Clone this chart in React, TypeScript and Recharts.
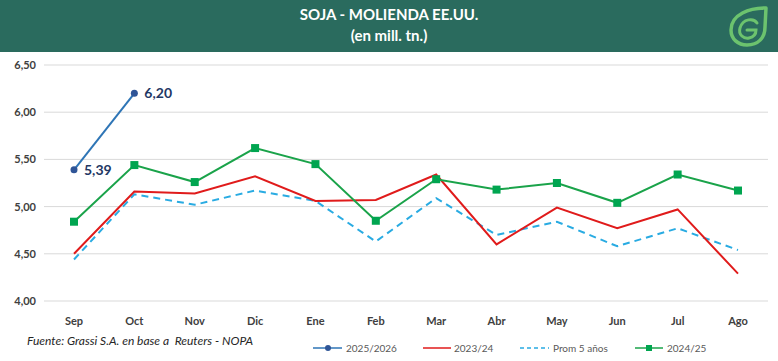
import React from "react";
import { LineChart, Line, XAxis, YAxis, CartesianGrid, LabelList } from "recharts";

document.body.style.margin = "0";

const months = ["Sep", "Oct", "Nov", "Dic", "Ene", "Feb", "Mar", "Abr", "May", "Jun", "Jul", "Ago"];
const season2526: (number | null)[] = [5.39, 6.2, null, null, null, null, null, null, null, null, null, null];
const season2324 = [4.5, 5.16, 5.14, 5.32, 5.06, 5.07, 5.34, 4.6, 4.99, 4.77, 4.97, 4.29];
const prom5 = [4.44, 5.13, 5.02, 5.17, 5.06, 4.63, 5.09, 4.7, 4.84, 4.58, 4.77, 4.54];
const season2425 = [4.84, 5.44, 5.26, 5.62, 5.45, 4.85, 5.29, 5.18, 5.25, 5.04, 5.34, 5.17];
const yTicks = [4, 4.5, 5, 5.5, 6, 6.5];

const data = months.map((m, i) => ({
  month: m,
  s2526: season2526[i],
  s2324: season2324[i],
  prom: prom5[i],
  s2425: season2425[i],
}));

const FONT = "Lato, 'Open Sans', sans-serif";
const comma = (v: number) => v.toFixed(2).replace(".", ",");

const SquareDot = (props: any) => {
  const { cx, cy } = props;
  if (cx == null || cy == null) return null;
  return <rect x={cx - 4} y={cy - 4} width={8} height={8} fill="#00a550" />;
};

// rough version of the leaf + G brand mark
function Logo() {
  return (
    <svg width={42} height={42} viewBox="0 0 42 42" style={{ position: "absolute", left: 727, top: 5 }}>
      <path
        d="M39 3 C23 3 4 9 4 25 C4 34 11 40 20 40 C31 40 38 33 38 22 Z"
        fill="none"
        stroke="#6cc36e"
        strokeWidth={3.5}
        strokeLinejoin="round"
      />
      <path
        d="M30 18 C27 13 16 13 13 23 C11 30 17 34 22 33 C27 32 29 29 29 25 L20 25"
        fill="none"
        stroke="#6cc36e"
        strokeWidth={3}
        strokeLinecap="round"
      />
    </svg>
  );
}

function LegendRow() {
  const txt = { fontFamily: FONT, fontSize: 10, fill: "#595959" };
  return (
    <svg width={778} height={20} style={{ position: "absolute", left: 0, top: 338 }}>
      <line x1={313} x2={342} y1={10} y2={10} stroke="#2e75b6" strokeWidth={1.5} />
      <circle cx={328} cy={10} r={3} fill="#2f5597" />
      <text x={346} y={13.5} {...txt}>2025/2026</text>
      <line x1={423} x2={451} y1={10} y2={10} stroke="#e01b1b" strokeWidth={1.5} />
      <text x={454} y={13.5} {...txt}>2023/24</text>
      <line x1={520} x2={549} y1={10} y2={10} stroke="#29abe2" strokeWidth={1.5} strokeDasharray="4 3" />
      <text x={553} y={13.5} {...txt}>Prom 5 años</text>
      <line x1={635} x2={663} y1={10} y2={10} stroke="#1aa34a" strokeWidth={1.5} />
      <rect x={646} y={7} width={6} height={6} fill="#00a550" />
      <text x={667} y={13.5} {...txt}>2024/25</text>
    </svg>
  );
}

export default function App() {
  return (
    <div style={{ position: "relative", width: 778, height: 361, background: "#fff", overflow: "hidden" }}>
      <LineChart width={778} height={361} data={data} margin={{ top: 65, right: 10, left: 0, bottom: 30 }}>
        <CartesianGrid vertical={false} stroke="#d9d9d9" />
        <XAxis
          dataKey="month"
          axisLine={false}
          tickLine={false}
          padding={{ left: 30, right: 30 }}
          tickMargin={10}
          height={30}
          tick={{ fontSize: 11, fontWeight: 700, fill: "#404040", fontFamily: FONT }}
        />
        <YAxis
          width={44}
          domain={[4, 6.5]}
          ticks={yTicks}
          axisLine={false}
          tickLine={false}
          tickFormatter={comma}
          tick={{ fontSize: 11, fontWeight: 700, fill: "#404040", fontFamily: FONT }}
        />
        <Line
          dataKey="prom"
          stroke="#29abe2"
          strokeWidth={2}
          strokeDasharray="7 5"
          dot={false}
          isAnimationActive={false}
        />
        <Line dataKey="s2324" stroke="#e01b1b" strokeWidth={2} dot={false} isAnimationActive={false} />
        <Line
          dataKey="s2425"
          stroke="#1aa34a"
          strokeWidth={2}
          dot={<SquareDot />}
          isAnimationActive={false}
        />
        <Line
          dataKey="s2526"
          stroke="#2e75b6"
          strokeWidth={2}
          dot={{ r: 3.5, fill: "#2f5597", stroke: "#2f5597", strokeWidth: 0 }}
          isAnimationActive={false}
        >
          <LabelList
            dataKey="s2526"
            position="right"
            offset={10}
            formatter={(v: any) => (v == null ? "" : comma(Number(v)))}
            style={{ fontSize: 14, fontWeight: 700, fill: "#1f3864", fontFamily: FONT }}
          />
        </Line>
      </LineChart>

      <div
        style={{
          position: "absolute",
          left: 0,
          top: 0,
          width: 778,
          height: 52,
          background: "#2a6b5e",
          color: "#fff",
          fontFamily: FONT,
          fontWeight: 700,
          fontSize: 15,
          textAlign: "center",
          lineHeight: "21px",
          paddingTop: 4,
          boxSizing: "border-box",
        }}
      >
        <div>SOJA - MOLIENDA EE.UU.</div>
        <div>(en mill. tn.)</div>
      </div>
      <Logo />

      <div
        style={{
          position: "absolute",
          left: 27,
          top: 333,
          fontFamily: FONT,
          fontStyle: "italic",
          fontSize: 12,
          color: "#262626",
          whiteSpace: "pre",
        }}
      >
        {"Fuente: Grassi S.A. en base a  Reuters - NOPA"}
      </div>
      <LegendRow />
    </div>
  );
}
